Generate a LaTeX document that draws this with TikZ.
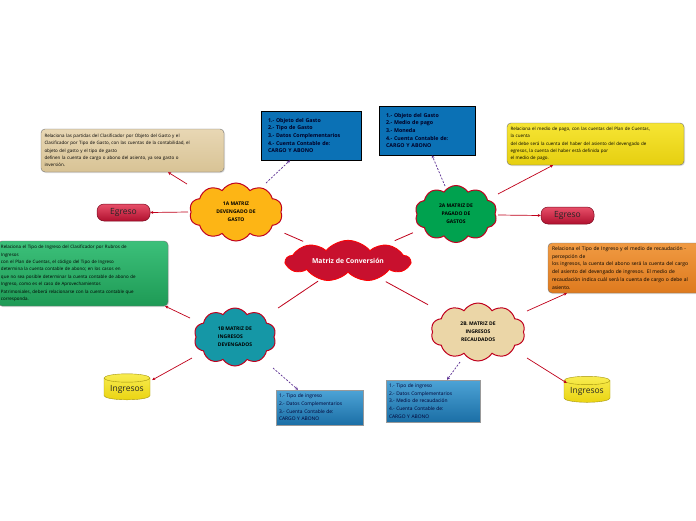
\documentclass[tikz,border=0pt]{standalone}
\usepackage{fontspec}
\setmainfont{Open Sans}
\usetikzlibrary{shapes.symbols,shapes.geometric,arrows.meta,calc,shadows}
\definecolor{cloudred}{HTML}{C0001E}
\definecolor{mainred}{HTML}{C8102E}
\definecolor{orangeA}{HTML}{FDB515}
\definecolor{greenA}{HTML}{00A24F}
\definecolor{tealA}{HTML}{1597A6}
\definecolor{beigeA}{HTML}{EBD6A7}
\definecolor{lineRed}{HTML}{C0001A}
\definecolor{purpleA}{HTML}{5A2D91}
\definecolor{blueA}{HTML}{0B71B5}
\definecolor{blueTop}{HTML}{4DA3D6}
\definecolor{blueBot}{HTML}{1B6FA6}
\definecolor{tanTop}{HTML}{E8D7B4}
\definecolor{tanBot}{HTML}{D8C395}
\definecolor{yellowTop}{HTML}{F6E534}
\definecolor{yellowBot}{HTML}{E6CF10}
\definecolor{greenTop}{HTML}{3CC07A}
\definecolor{greenBot}{HTML}{1E9A55}
\definecolor{orangeTop}{HTML}{F09A42}
\definecolor{orangeBot}{HTML}{DE7A1E}
\definecolor{pillTop}{HTML}{E8506A}
\definecolor{pillBot}{HTML}{B0102E}
\definecolor{cylTop}{HTML}{F8EC50}
\definecolor{cylBot}{HTML}{EAD412}
\begin{document}
\begin{tikzpicture}[x=1pt,y=-1pt,
  cloudnode/.style={cloud, cloud puffs=10, cloud puff arc=115, draw=cloudred, line width=1pt,
    inner sep=0pt, align=center, font=\fontsize{5}{8}\selectfont\bfseries},
  infobox/.style={rectangle, rounded corners=4pt, draw=black!55, line width=0.4pt,
    inner sep=0pt, align=left, font=\fontsize{4.5}{7.4}\selectfont,
    drop shadow={opacity=0.25, shadow xshift=1pt, shadow yshift=-1pt}},
  darkbox/.style={rectangle, draw=black, line width=0.6pt, fill=blueA, inner sep=0pt,
    align=left, font=\fontsize{5.3}{7.7}\selectfont\bfseries, text=black!85!blue,
    drop shadow={opacity=0.25, shadow xshift=1pt, shadow yshift=-1pt}},
  lightbox/.style={rectangle, draw=black!40, line width=0.4pt, top color=blueTop, bottom color=blueBot,
    inner sep=0pt, align=left, font=\fontsize{4.9}{7.6}\selectfont, text=black!80!blue,
    drop shadow={opacity=0.25, shadow xshift=1pt, shadow yshift=-1pt}},
  pill/.style={rectangle, rounded corners=7pt, draw=pillBot!70!black, line width=0.5pt,
    top color=pillTop, bottom color=pillBot, minimum width=53pt, minimum height=17pt,
    inner sep=0pt, font=\fontsize{8.5}{10}\selectfont, text=black!85},
  cyl/.style={cylinder, shape border rotate=90, aspect=0.25, draw=cylBot!70!black, line width=0.4pt,
    top color=cylTop, bottom color=cylBot, minimum width=46pt, minimum height=26pt,
    inner sep=0pt, font=\fontsize{8.5}{10}\selectfont, text=black!85},
  rline/.style={draw=lineRed, line width=0.7pt, -{Stealth[length=3pt,width=3pt]}},
  cline/.style={draw=lineRed, line width=0.8pt},
  dline/.style={draw=purpleA, line width=0.7pt, dashed, dash pattern=on 2pt off 1.5pt, -{Stealth[length=3pt,width=3pt]}}
]
\useasboundingbox (0,0) rectangle (696,520);
\fill[white] (0,0) rectangle (696,520);

% central cloud
\node[cloud, cloud puffs=9, cloud puff arc=100, aspect=3.8, draw=red, line width=0.8pt, fill=mainred,
  minimum width=124pt, minimum height=30pt, inner sep=0pt,
  font=\fontsize{6.8}{8}\selectfont\bfseries, text=white] (mc) at (348,261) {Matriz de Conversión};

% sub clouds
\node[cloudnode, fill=orangeA, aspect=1.6, minimum width=93pt, minimum height=58pt] (c1a) at (236,212)
  {1A MATRIZ\\DEVENGADO DE\\GASTO};
\node[cloudnode, fill=greenA, aspect=1.45, minimum width=82pt, minimum height=57pt] (c2a) at (456,214)
  {2A MATRIZ DE\\PAGADO DE\\GASTOS};
\node[cloudnode, fill=tealA, aspect=1.45, minimum width=82pt, minimum height=58pt, align=left] (c1b) at (235,337)
  {1B MATRIZ DE\\INGRESOS\\DEVENGADOS};
\node[cloudnode, fill=beigeA, aspect=1.6, minimum width=94pt, minimum height=58pt] (c2b) at (478,332)
  {2B. MATRIZ DE\\INGRESOS\\RECAUDADOS};

% info boxes
\node[infobox, top color=tanTop, bottom color=tanBot, minimum width=183pt, minimum height=43pt, text width=176pt] (tan) at (132.5,150.5)
  {Relaciona las partidas del Clasificador por Objeto del Gasto y el\\
   Clasificador por Tipo de Gasto, con las cuentas de la contabilidad, el\\
   objeto del gasto y el tipo de gasto\\
   definen la cuenta de cargo o abono del asiento, ya sea gasto o\\
   inversión.};
\node[infobox, top color=yellowTop, bottom color=yellowBot, minimum width=177pt, minimum height=42pt, text width=170pt] (yellow) at (595.5,144)
  {Relaciona el medio de pago, con las cuentas del Plan de Cuentas,\\
   la cuenta\\
   del debe será la cuenta del haber del asiento del devengado de\\
   egresos, la cuenta del haber está definida por\\
   el medio de pago.};
\node[infobox, top color=greenTop, bottom color=greenBot, minimum width=170pt, minimum height=65pt, text width=164pt] (green) at (83,273.5)
  {Relaciona el Tipo de Ingreso del Clasificador por Rubros de\\
   Ingresos\\
   con el Plan de Cuentas, el código del Tipo de Ingreso\\
   determina la cuenta contable de abono; en los casos en\\
   que no sea posible determinar la cuenta contable de abono de\\
   Ingreso, como es el caso de Aprovechamientos\\
   Patrimoniales, deberá relacionarse con la cuenta contable que\\
   corresponda.};
\node[infobox, top color=orangeTop, bottom color=orangeBot, minimum width=180pt, minimum height=50pt, text width=172pt,
  font=\fontsize{5.0}{7.9}\selectfont] (orange) at (638,268)
  {Relaciona el Tipo de Ingreso y el medio de recaudación -\\
   percepción de\\
   los ingresos, la cuenta del abono será la cuenta del cargo\\
   del asiento del devengado de ingresos. El medio de\\
   recaudación indica cuál será la cuenta de cargo o debe al\\
   asiento.};

% dark blue boxes
\node[darkbox, minimum width=100pt, minimum height=49pt, text width=86pt] (blue1) at (311,135.5)
  {1.- Objeto del Gasto\\2.- Tipo de Gasto\\3.- Datos Complementarios\\4.- Cuenta Contable de:\\CARGO Y ABONO};
\node[darkbox, minimum width=96pt, minimum height=49pt, text width=82pt] (blue2) at (427,130.5)
  {1.- Objeto del Gasto\\2.- Medio de pago\\3.- Moneda\\4.- Cuenta Contable de:\\CARGO Y ABONO};

% light blue boxes
\node[lightbox, minimum width=87pt, minimum height=35pt, text width=81pt] (blue3) at (319.5,407.5)
  {1.- Tipo de ingreso\\2.- Datos Complementarios\\3.- Cuenta Contable de:\\CARGO Y ABONO};
\node[lightbox, minimum width=94pt, minimum height=42pt, text width=88pt] (blue4) at (433,401)
  {1.- Tipo de ingreso\\2.- Datos Complementarios\\3.- Medio de recaudación\\4.- Cuenta Contable de:\\CARGO Y ABONO};

% pills and cylinders
\node[pill] (egL) at (123.5,212.5) {Egreso};
\node[pill] (egR) at (567.5,215.5) {Egreso};
\node[cyl] (ingL) at (127,389) {Ingresos};
\node[cyl] (ingR) at (587,391.5) {Ingresos};

% center connectors
\draw[cline, shorten <=53pt, shorten >=49pt] (c1a.center) -- (mc.center);
\draw[cline, shorten <=47pt, shorten >=51pt] (c2a.center) -- (mc.center);
\draw[cline, shorten <=52pt, shorten >=36pt] (c1b.center) -- (mc.center);
\draw[cline, shorten <=57pt, shorten >=43pt] (c2b.center) -- (mc.center);

% 1A
\draw[rline] ($(c1a.center)+(-49,-28)$) -- ($(tan.south)+(35.5,0)$);
\draw[rline] ($(c1a.center)+(-48,0)$) -- (egL.east);
\draw[dline] ($(c1a.center)+(30,-29)$) -- ($(blue1.south)+(-21,0)$);
% 2A
\draw[rline] ($(c2a.center)+(42,-20)$) -- ($(yellow.south)+(-42.5,0)$);
\draw[rline] ($(c2a.center)+(42,1)$) -- (egR.west);
\draw[dline] ($(c2a.center)+(-11,-28)$) -- ($(blue2.south)+(5,0)$);
% 1B
\draw[rline] ($(c1b.center)+(-45,-19)$) -- ($(green.south east)+(-3,0)$);
\draw[rline] ($(c1b.center)+(-43,21)$) -- ($(ingL.east)+(2,-9)$);
\draw[dline] ($(c1b.center)+(38,31)$) -- ($(blue3.north)+(-21.5,0)$);
% 2B
\draw[rline] ($(c2b.center)+(49,-21)$) -- ($(orange.south west)+(19,0)$);
\draw[rline] ($(c2b.center)+(49,26)$) -- ($(ingR.west)+(3,-8.5)$);
\draw[dline] ($(c2b.center)+(-18,30)$) -- ($(blue4.north)+(14,0)$);
\end{tikzpicture}
\end{document}
